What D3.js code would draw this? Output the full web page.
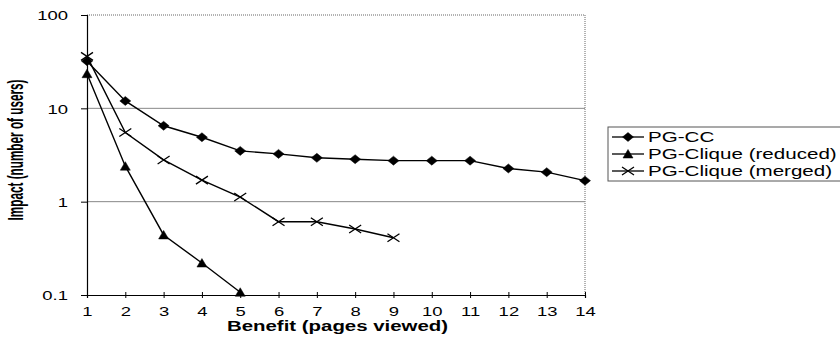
<!DOCTYPE html>
<html>
<head>
<meta charset="utf-8">
<script src="https://cdn.jsdelivr.net/npm/d3@7"></script>
<style>
  body { margin: 0; background: #fff; }
  svg { display: block; font-family: "Liberation Sans", Arial, Helvetica, sans-serif; }
</style>
</head>
<body>
<div id="chart"></div>
<script>
// values
const benefit = [1, 2, 3, 4, 5, 6, 7, 8, 9, 10, 11, 12, 13, 14];
const pgCC = [32, 12, 6.5, 4.9, 3.5, 3.25, 2.95, 2.85, 2.75, 2.75, 2.75, 2.27, 2.07, 1.68];
const pgCliqueReduced = [23.5, 2.4, 0.44, 0.22, 0.107];
const pgCliqueMerged = [36, 5.5, 2.8, 1.7, 1.12, 0.61, 0.61, 0.51, 0.41];
const yTicks = [0.1, 1, 10, 100];
const yTickLabels = ["0.1", "1", "10", "100"];
const seriesNames = ["PG-CC", "PG-Clique (reduced)", "PG-Clique (merged)"];

const W = 840, H = 343;
const stretch = 1.42; // the scan is wider than tall

const svg = d3.select("#chart").append("svg")
    .attr("width", W)
    .attr("height", H);

const x = d3.scaleLinear().domain([1, 14]).range([87, 585]);
const y = d3.scaleLog().domain([0.1, 100]).range([295, 15]);

// plot frame: top + right dotted gray
svg.append("line")
    .attr("x1", x(1)).attr("x2", x(14))
    .attr("y1", y(100)).attr("y2", y(100))
    .attr("stroke", "#666").attr("stroke-dasharray", "1,1");
svg.append("line")
    .attr("x1", x(14)).attr("x2", x(14))
    .attr("y1", y(100)).attr("y2", y(0.1))
    .attr("stroke", "#666").attr("stroke-dasharray", "1,1");

// gridlines at 1 and 10
svg.append("g")
    .selectAll("line")
    .data([1, 10])
    .enter()
    .append("line")
    .attr("x1", x(1)).attr("x2", x(14))
    .attr("y1", d => y(d)).attr("y2", d => y(d))
    .attr("stroke", "#888").attr("stroke-width", 1);

// y axis
const yAxis = d3.axisLeft(y)
    .tickValues(yTicks)
    .tickFormat((d, i) => yTickLabels[i])
    .tickSizeOuter(0)
    .tickSize(6);

const gy = svg.append("g")
    .attr("transform", `translate(${x(1)},0)`)
    .call(yAxis);
gy.select(".domain").attr("stroke", "#000").attr("stroke-width", 1.2);
gy.selectAll(".tick line").attr("stroke", "#000");
gy.selectAll("text")
    .attr("font-size", 13)
    .attr("fill", "#000")
    .attr("x", -19 / stretch)
    .attr("dy", "0.36em")
    .attr("transform", `scale(${stretch},1)`);

// x axis
const xAxis = d3.axisBottom(x)
    .tickValues(benefit)
    .tickFormat(d3.format("d"))
    .tickSizeOuter(0)
    .tickSize(3);

const gx = svg.append("g")
    .attr("transform", `translate(0,${y(0.1)})`)
    .call(xAxis);
gx.select(".domain").attr("stroke", "#000").attr("stroke-width", 1.2);
gx.selectAll(".tick line").attr("stroke", "#000").attr("y1", -3);
gx.selectAll("text")
    .attr("font-size", 13)
    .attr("fill", "#000")
    .attr("y", 21)
    .attr("dy", 0)
    .attr("transform", `scale(${stretch},1)`);

// axis titles
svg.append("text")
    .attr("x", 337.5)
    .attr("y", 331)
    .attr("text-anchor", "middle")
    .attr("font-size", 14)
    .attr("font-weight", "bold")
    .attr("textLength", 221)
    .attr("lengthAdjust", "spacingAndGlyphs")
    .text("Benefit (pages viewed)");

svg.append("text")
    .attr("transform", "translate(23,150) scale(1.7,1) rotate(-90)")
    .attr("text-anchor", "middle")
    .attr("font-size", 13)
    .attr("font-weight", "bold")
    .attr("textLength", 141)
    .attr("lengthAdjust", "spacingAndGlyphs")
    .text("Impact (number of users)");

// markers
const diamond = "M0,-4.5L5.5,0L0,4.5L-5.5,0Z";
const triangle = "M0,-4.5L5,4L-5,4Z";
const cross = "M-6,-4L6,4M-6,4L6,-4";

const series = [
    {name: seriesNames[0], values: pgCC, mark: diamond, fill: "#000"},
    {name: seriesNames[1], values: pgCliqueReduced, mark: triangle, fill: "#000"},
    {name: seriesNames[2], values: pgCliqueMerged, mark: cross, fill: "none"}
];

const line = d3.line()
    .x((d, i) => x(benefit[i]))
    .y(d => y(d));

series.forEach(s => {
    svg.append("path")
        .attr("d", line(s.values))
        .attr("fill", "none")
        .attr("stroke", "#000")
        .attr("stroke-width", 1.4);

    svg.append("g")
        .selectAll("path")
        .data(s.values)
        .enter()
        .append("path")
        .attr("d", s.mark)
        .attr("transform", (d, i) => `translate(${x(benefit[i])},${y(d)})`)
        .attr("fill", s.fill)
        .attr("stroke", "#000")
        .attr("stroke-width", s.fill === "none" ? 1.3 : 0.5);
});

// legend
const legend = svg.append("g").attr("transform", "translate(608,127)");
legend.append("rect")
    .attr("width", 240)
    .attr("height", 54)
    .attr("fill", "#fff")
    .attr("stroke", "#555");

const item = legend.selectAll("g.item")
    .data(series)
    .enter()
    .append("g")
    .attr("class", "item")
    .attr("transform", (d, i) => `translate(0,${10 + i * 17})`);

item.append("line")
    .attr("x1", 4).attr("x2", 36)
    .attr("stroke", "#000").attr("stroke-width", 1.3);
item.append("path")
    .attr("d", d => d.mark)
    .attr("transform", "translate(20,0)")
    .attr("fill", d => d.fill)
    .attr("stroke", "#000")
    .attr("stroke-width", d => d.fill === "none" ? 1.3 : 0.5);
item.append("text")
    .attr("x", 40 / stretch)
    .attr("y", 5)
    .attr("font-size", 14.5)
    .attr("transform", `scale(${stretch},1)`)
    .text(d => d.name);
</script>
</body>
</html>
